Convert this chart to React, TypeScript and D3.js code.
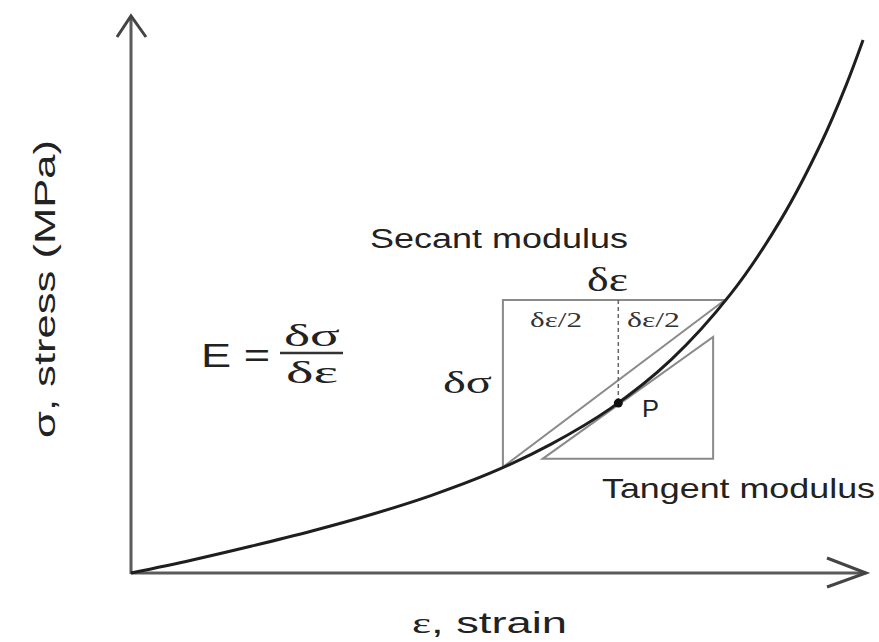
import React from "react";
import * as d3 from "d3";

// Stress–strain curve (abstract units 0–100)
const strain = [0, 8.2, 16.3, 24.5, 32.7, 40.8, 49.0, 57.1, 65.3, 73.5, 81.6, 88.4, 93.9, 97.3, 99.6];
const stress = [0, 2.3, 4.8, 7.5, 10.5, 13.9, 18.0, 23.1, 29.6, 38.3, 50.1, 63.4, 77.2, 87.6, 95.7];

// Secant box (strain range, stress range)
const secantStrain = [50.6, 80.8];
const secantStress = [19.0, 49.0];
// Point P
const pointP = [66.3, 30.5];
// Tangent triangle
const tangentStrain = [56.0, 79.2];
const tangentStress = [20.5, 42.4];

const axisMax = [100, 100];

const W = 879;
const H = 642;

export default function App() {
  const x = d3.scaleLinear().domain([0, axisMax[0]]).range([131, 866]);
  const y = d3.scaleLinear().domain([0, axisMax[1]]).range([573, 16]);

  const pts: [number, number][] = strain.map((s, i) => [s, stress[i]]);
  const line = d3
    .line<[number, number]>()
    .x((d) => x(d[0]))
    .y((d) => y(d[1]))
    .curve(d3.curveCatmullRom.alpha(0.5));

  const axisColor = "#5a5a5a";
  const boxColor = "#8a8a8a";
  const sans = "'Liberation Sans', Arial, sans-serif";
  const serif = "'Liberation Serif', 'Times New Roman', serif";

  const x0 = x(0), y0 = y(0);
  const xEnd = x(axisMax[0]);
  const yEnd = y(axisMax[1]);

  return (
    <svg
      width={W}
      height={H}
      style={{ position: "absolute", left: 0, top: 0, background: "#fff" }}
    >
      {/* axes */}
      <line x1={x0} y1={y0 + 1} x2={x0} y2={yEnd} stroke={axisColor} strokeWidth={3} />
      <line x1={x0} y1={y0} x2={xEnd} y2={y0} stroke={axisColor} strokeWidth={3} />
      <path
        d={`M${x0 - 14},${yEnd + 21} L${x0},${yEnd} L${x0 + 15},${yEnd + 21}`}
        fill="none"
        stroke="#444"
        strokeWidth={3}
      />
      <path
        d={`M${xEnd - 39},${y0 - 15} L${xEnd},${y0} L${xEnd - 39},${y0 + 14}`}
        fill="none"
        stroke="#444"
        strokeWidth={3}
      />

      {/* secant box (left + top) */}
      <path
        d={`M${x(secantStrain[0])},${y(secantStress[0])} L${x(secantStrain[0])},${y(secantStress[1])} L${x(secantStrain[1])},${y(secantStress[1])}`}
        fill="none"
        stroke={boxColor}
        strokeWidth={2}
      />
      {/* secant line */}
      <line
        x1={x(secantStrain[0])}
        y1={y(secantStress[0])}
        x2={x(secantStrain[1])}
        y2={y(secantStress[1])}
        stroke={boxColor}
        strokeWidth={2}
      />
      {/* dashed line at P */}
      <line
        x1={x(pointP[0])}
        y1={y(secantStress[1])}
        x2={x(pointP[0])}
        y2={y(pointP[1])}
        stroke="#666"
        strokeWidth={1.5}
        strokeDasharray="4,3"
      />
      {/* tangent triangle */}
      <path
        d={`M${x(tangentStrain[0])},${y(tangentStress[0])} L${x(tangentStrain[1])},${y(tangentStress[0])} L${x(tangentStrain[1])},${y(tangentStress[1])} Z`}
        fill="none"
        stroke={boxColor}
        strokeWidth={2}
      />

      {/* curve */}
      <path d={line(pts) || ""} fill="none" stroke="#1e1e1e" strokeWidth={3} />

      {/* point P */}
      <circle cx={x(pointP[0])} cy={y(pointP[1])} r={4.5} fill="#111" />
      <text x={642} y={417} fontFamily={sans} fontSize={23} textLength={17} lengthAdjust="spacingAndGlyphs" fill="#222">
        P
      </text>

      {/* labels */}
      <text x={370} y={248} fontFamily={sans} fontSize={27} textLength={258} lengthAdjust="spacingAndGlyphs" fill="#222">
        Secant modulus
      </text>
      <text x={587} y={291} fontFamily={serif} fontSize={34} textLength={41} lengthAdjust="spacingAndGlyphs" fill="#222">
        δε
      </text>
      <text x={530} y={327} fontFamily={serif} fontSize={21} textLength={52} lengthAdjust="spacingAndGlyphs" fill="#333">
        δε/2
      </text>
      <text x={627} y={327} fontFamily={serif} fontSize={21} textLength={53} lengthAdjust="spacingAndGlyphs" fill="#333">
        δε/2
      </text>
      <text x={443} y={393} fontFamily={serif} fontSize={31} textLength={49} lengthAdjust="spacingAndGlyphs" fill="#222">
        δσ
      </text>
      <text x={602} y={498} fontFamily={sans} fontSize={28} textLength={273} lengthAdjust="spacingAndGlyphs" fill="#222">
        Tangent modulus
      </text>

      {/* formula */}
      <text x={201} y={367} fontFamily={sans} fontSize={34} textLength={69} lengthAdjust="spacingAndGlyphs" fill="#222">
        E =
      </text>
      <text x={312} y={346} textAnchor="middle" fontFamily={serif} fontSize={32} textLength={56} lengthAdjust="spacingAndGlyphs" fill="#222">
        δσ
      </text>
      <line x1={280} y1={353} x2={343} y2={353} stroke="#333" strokeWidth={2.5} />
      <text x={312} y={383} textAnchor="middle" fontFamily={serif} fontSize={32} textLength={52} lengthAdjust="spacingAndGlyphs" fill="#222">
        δε
      </text>

      {/* axis titles */}
      <text x={412} y={633} fontFamily={sans} fontSize={29} textLength={155} lengthAdjust="spacingAndGlyphs" fill="#222">
        <tspan fontFamily={serif}>ε</tspan>, strain
      </text>
      <text
        transform="translate(55,438) rotate(-90)"
        fontFamily={sans}
        fontSize={29}
        textLength={298}
        lengthAdjust="spacingAndGlyphs"
        fill="#222"
      >
        σ, stress (MPa)
      </text>
    </svg>
  );
}
